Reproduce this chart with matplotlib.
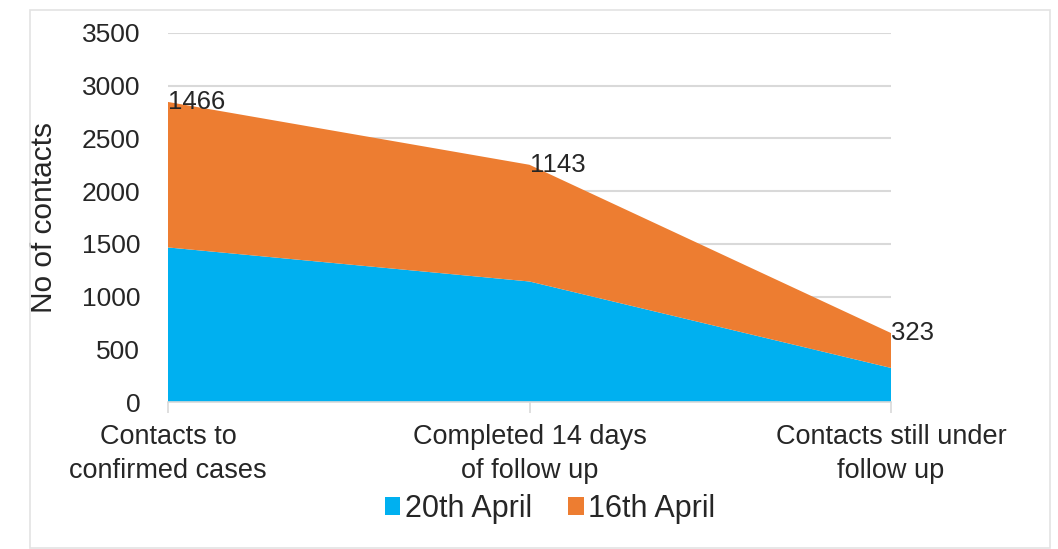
import matplotlib
matplotlib.use("Agg")
import matplotlib.pyplot as plt
from matplotlib.patches import Rectangle
import numpy as np

plt.rcParams['font.family'] = ['Liberation Sans', 'DejaVu Sans']

categories = ["Contacts to\nconfirmed cases", "Completed 14 days\nof follow up", "Contacts still under\nfollow up"]
series_names = ["20th April", "16th April"]
april20 = [1466, 1143, 323]
april16 = [1380, 1107, 331]
label_values = [1466, 1143, 323]
yticks = [0, 500, 1000, 1500, 2000, 2500, 3000, 3500]

blue = "#00B0F0"
orange = "#ED7D31"
text_color = "#262626"

W, H = 1058, 549
fig = plt.figure(figsize=(W / 100, H / 100), dpi=100)
fig.patch.set_facecolor("white")

# outer chart border
fig.patches.append(Rectangle((30 / W, 1 - 548 / H), (1050 - 30) / W, (548 - 10) / H,
                             transform=fig.transFigure, fill=False,
                             edgecolor="#e3e3e3", linewidth=1.2))

ax = fig.add_axes([168 / W, 1 - 402 / H, (891 - 168) / W, (402 - 33) / H])
x = np.arange(len(categories))
ax.stackplot(x, april20, april16, colors=[blue, orange], labels=series_names,
             linewidth=0, zorder=2)

top = np.array(april20) + np.array(april16)
for xi, yi, v in zip(x, top, label_values):
    ax.text(xi, yi, f"{v}", ha="left", va="center", fontsize=18.5, color=text_color, zorder=3)

ax.set_xlim(0, len(categories) - 1)
ax.set_ylim(0, 3500)
ax.set_yticks(yticks)
ax.set_yticklabels([str(t) for t in yticks], fontsize=19, color=text_color)
ax.set_xticks(x)
ax.set_xticklabels(categories, fontsize=19.5, color=text_color, linespacing=1.38)
ax.tick_params(axis="y", length=0, pad=20)
ax.tick_params(axis="x", length=8, color="#d9d9d9", width=1.2, pad=8)

ax.grid(axis="y", color="#d9d9d9", linewidth=1.5, zorder=0)
ax.set_axisbelow(True)
for s in ["top", "right", "left"]:
    ax.spines[s].set_visible(False)
ax.spines["bottom"].set_color("#d9d9d9")
ax.spines["bottom"].set_linewidth(1.2)

ax.set_ylabel("No of contacts", fontsize=21.5, color=text_color)
ax.yaxis.set_label_coords((58 - 168) / (891 - 168), 0.5)

leg = fig.legend(loc="center", bbox_to_anchor=(550 / W, 1 - 509 / H), ncol=2,
                 frameon=False, fontsize=22, handlelength=0.5, handleheight=0.5,
                 handletextpad=0.15, columnspacing=1.2, labelcolor=text_color)

fig.savefig("out.png", dpi=100, facecolor="white")
